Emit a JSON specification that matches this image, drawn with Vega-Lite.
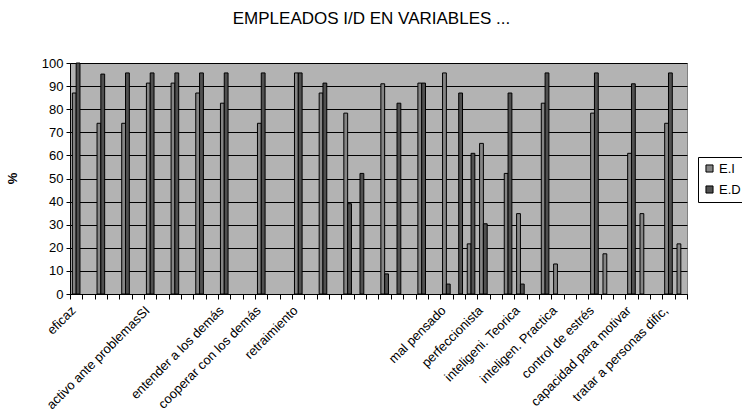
{
  "$schema": "https://vega.github.io/schema/vega-lite/v6.json",
  "width": 617,
  "height": 231,
  "autosize": {"type": "none"},
  "padding": {"left": 70, "top": 63, "right": 55, "bottom": 123},
  "background": "white",
  "title": {"text": "EMPLEADOS I/D EN VARIABLES ...", "fontSize": 17, "font": "Liberation Sans", "fontWeight": "normal", "color": "black", "dx": -7, "offset": 29},
  "config": {"view": {"fill": "#b3b3b3", "stroke": "#808080"}, "font": "Liberation Sans"},
  "data": {"values": [
    {"cat": "eficaz", "serie": "E.I", "pct": 87},
    {"cat": "eficaz", "serie": "E.D", "pct": 100},
    {"cat": "#2", "serie": "E.I", "pct": 73.9},
    {"cat": "#2", "serie": "E.D", "pct": 95.2},
    {"cat": "#4", "serie": "E.I", "pct": 73.9},
    {"cat": "#4", "serie": "E.D", "pct": 95.7},
    {"cat": "activo ante problemasSI", "serie": "E.I", "pct": 91.3},
    {"cat": "activo ante problemasSI", "serie": "E.D", "pct": 95.7},
    {"cat": "#8", "serie": "E.I", "pct": 91.3},
    {"cat": "#8", "serie": "E.D", "pct": 95.7},
    {"cat": "#10", "serie": "E.I", "pct": 87},
    {"cat": "#10", "serie": "E.D", "pct": 95.7},
    {"cat": "entender a los demás", "serie": "E.I", "pct": 82.6},
    {"cat": "entender a los demás", "serie": "E.D", "pct": 95.7},
    {"cat": "cooperar con los demás", "serie": "E.I", "pct": 73.9},
    {"cat": "cooperar con los demás", "serie": "E.D", "pct": 95.7},
    {"cat": "retraimiento", "serie": "E.I", "pct": 95.7},
    {"cat": "retraimiento", "serie": "E.D", "pct": 95.7},
    {"cat": "#20", "serie": "E.I", "pct": 87},
    {"cat": "#20", "serie": "E.D", "pct": 91.3},
    {"cat": "#22", "serie": "E.I", "pct": 78.3},
    {"cat": "#22", "serie": "E.D", "pct": 39.1},
    {"cat": "#23", "serie": "E.D", "pct": 52.2},
    {"cat": "#25", "serie": "E.I", "pct": 91},
    {"cat": "#25", "serie": "E.D", "pct": 8.7},
    {"cat": "#26", "serie": "E.D", "pct": 82.6},
    {"cat": "#28", "serie": "E.I", "pct": 91.3},
    {"cat": "#28", "serie": "E.D", "pct": 91.3},
    {"cat": "mal pensado", "serie": "E.I", "pct": 95.7},
    {"cat": "mal pensado", "serie": "E.D", "pct": 4.3},
    {"cat": "#31", "serie": "E.D", "pct": 87},
    {"cat": "#32", "serie": "E.I", "pct": 21.7},
    {"cat": "#32", "serie": "E.D", "pct": 60.9},
    {"cat": "perfeccionista", "serie": "E.I", "pct": 65.2},
    {"cat": "perfeccionista", "serie": "E.D", "pct": 30.4},
    {"cat": "#35", "serie": "E.I", "pct": 52.2},
    {"cat": "#35", "serie": "E.D", "pct": 87},
    {"cat": "inteligeni. Teorica", "serie": "E.I", "pct": 34.8},
    {"cat": "inteligeni. Teorica", "serie": "E.D", "pct": 4.3},
    {"cat": "#38", "serie": "E.I", "pct": 82.6},
    {"cat": "#38", "serie": "E.D", "pct": 95.7},
    {"cat": "inteligen. Practica", "serie": "E.I", "pct": 13},
    {"cat": "control de estrés", "serie": "E.I", "pct": 78.3},
    {"cat": "control de estrés", "serie": "E.D", "pct": 95.7},
    {"cat": "#43", "serie": "E.I", "pct": 17.4},
    {"cat": "capacidad para motivar", "serie": "E.I", "pct": 60.9},
    {"cat": "capacidad para motivar", "serie": "E.D", "pct": 91},
    {"cat": "#46", "serie": "E.I", "pct": 34.8},
    {"cat": "tratar a personas dific,", "serie": "E.I", "pct": 73.9},
    {"cat": "tratar a personas dific,", "serie": "E.D", "pct": 95.7},
    {"cat": "#49", "serie": "E.I", "pct": 21.7}
  ]},
  "mark": {"type": "bar", "stroke": "black", "strokeWidth": 1},
  "encoding": {
    "x": {
      "field": "cat", "type": "nominal", "sort": null,
      "scale": {"domain": ["eficaz", "#1", "#2", "#3", "#4", "#5", "activo ante problemasSI", "#7", "#8", "#9", "#10", "#11", "entender a los demás", "#13", "#14", "cooperar con los demás", "#16", "#17", "retraimiento", "#19", "#20", "#21", "#22", "#23", "#24", "#25", "#26", "#27", "#28", "#29", "mal pensado", "#31", "#32", "perfeccionista", "#34", "#35", "inteligeni. Teorica", "#37", "#38", "inteligen. Practica", "#40", "#41", "control de estrés", "#43", "#44", "capacidad para motivar", "#46", "#47", "tratar a personas dific,", "#49"], "paddingInner": 0, "paddingOuter": 0},
      "axis": {"title": null, "labelAngle": -45, "labelAlign": "right", "labelBaseline": "middle", "labelFontSize": 13, "labelColor": "black", "tickBand": "extent", "tickColor": "black", "tickSize": 5, "domainColor": "black", "labelPadding": 9, "labelOffset": -3, "labelOverlap": false, "labelLimit": 300, "grid": false, "labelExpr": "indexof(datum.label, '#') === 0 ? '' : datum.label"}
    },
    "xOffset": {"field": "serie", "type": "nominal", "scale": {"domain": ["E.I", "E.D"], "paddingInner": 0, "paddingOuter": 0.62}},
    "y": {
      "field": "pct", "type": "quantitative",
      "scale": {"domain": [0, 100]},
      "axis": {"values": [0, 10, 20, 30, 40, 50, 60, 70, 80, 90, 100], "title": "%", "grid": true, "gridColor": "black", "gridOpacity": 1, "gridWidth": 1, "domainColor": "black", "tickColor": "black", "tickSize": 4, "labelFontSize": 13, "labelColor": "black", "labelPadding": 3, "titleFontSize": 13, "titleFontWeight": "bold", "titleColor": "black", "titleX": -58, "titleY": 115, "titleAlign": "center", "titleBaseline": "middle"}
    },
    "color": {
      "field": "serie", "type": "nominal",
      "scale": {"domain": ["E.I", "E.D"], "range": ["#858585", "#505050"]},
      "legend": {"title": null, "orient": "none", "legendX": 628, "legendY": 94, "direction": "vertical", "strokeColor": "black", "fillColor": "white", "padding": 5, "symbolType": "square", "symbolSize": 50, "symbolStrokeColor": "black", "symbolStrokeWidth": 1, "labelFontSize": 13, "labelColor": "black", "rowPadding": 7, "labelOffset": 3}
    }
  }
}
